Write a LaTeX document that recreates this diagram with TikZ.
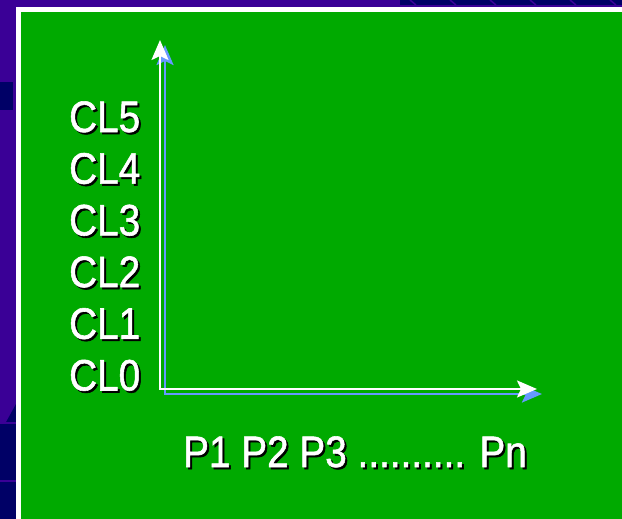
\documentclass[tikz,border=0pt]{standalone}
\usepackage{fontspec}
\setmainfont{Liberation Sans}
\newfontfamily\slidefont{Liberation Sans}[FakeBold=1.3]
\usetikzlibrary{positioning, arrows.meta, calc}
\definecolor{slideBg}{HTML}{3A0096}
\definecolor{slideDark}{HTML}{000066}
\definecolor{panelGreen}{HTML}{00AA00}
\definecolor{axisShade}{HTML}{6699FF}
\newcommand{\narrowtxt}[1]{\scalebox{0.88}[1]{#1}}

\begin{document}
\begin{tikzpicture}[x=1pt,y=-1pt,lbl/.style={font=\slidefont\fontsize{44}{50}\selectfont, inner sep=0pt, anchor=base west, text=white},lblshade/.style={lbl, text=black},axis/.style={draw=white, line width=2pt, {Stealth[length=20pt,width=17pt,inset=4pt]}-{Stealth[length=20pt,width=17pt,inset=4pt]}},axisshade/.style={axis, draw=axisShade, line width=2.5pt}]
\useasboundingbox (0,0) rectangle (622,519);
% slide backdrop
\fill[slideBg] (0,0) rectangle (622,519);
\fill[slideDark] (400,0) rectangle (622,5);
\foreach \sx in {410,450,...,610} \draw[slideBg, line width=1.5pt] (\sx,0) -- (\sx+6,5);
\fill[slideDark] (0,82) rectangle (13,110);
\fill[slideDark] (16,404) -- (16,519) -- (0,519) -- (0,424) -- (5,424) -- cycle;
\draw[slideBg, line width=1.5pt] (0,423) -- (16,423) (0,481) -- (16,481);
% green panel with white rim
\fill[white] (16,7) rectangle (622,519);
\fill[panelGreen] (21,12) rectangle (622,519);
% axes, shadow first
\coordinate (o) at (160,389);
\coordinate (ytip) at (160,40);
\coordinate (xtip) at (537,389);
\draw[axisshade] ([shift={(5,5)}]ytip) -- ([shift={(5,5)}]o) -- ([shift={(5,5)}]xtip);
\draw[axis] (ytip) -- (o) -- (xtip);
% class levels
\foreach \k in {0,...,5} {
  \node[lblshade] at (71,{392.5-51.7*\k}) {\narrowtxt{CL\k}};
  \node[lbl] (cl\k) at (69,{390.5-51.7*\k}) {\narrowtxt{CL\k}};
}
% processes
\node[lblshade] at (185,469) {\narrowtxt{P1 P2 P3 .......... Pn}};
\node[lbl] (procs) at (183,467) {\narrowtxt{P1 P2 P3 .......... Pn}};
\end{tikzpicture}
\end{document}
